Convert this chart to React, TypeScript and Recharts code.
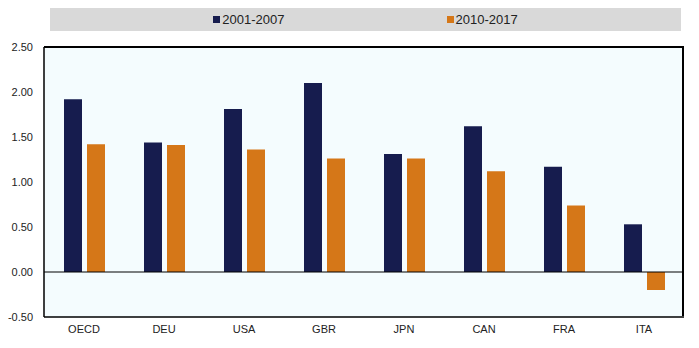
import {
  BarChart, Bar, XAxis, YAxis, CartesianGrid, ReferenceLine,
} from "recharts";

const categories = ["OECD", "DEU", "USA", "GBR", "JPN", "CAN", "FRA", "ITA"];
const series2001 = [1.92, 1.44, 1.81, 2.10, 1.31, 1.62, 1.17, 0.53];
const series2010 = [1.42, 1.41, 1.36, 1.26, 1.26, 1.12, 0.74, -0.2];
const seriesNames = ["2001-2007", "2010-2017"];
const yTicks = [-0.5, 0, 0.5, 1, 1.5, 2, 2.5];

const COLORS = ["#161C4E", "#D57718"];
const FONT = "'Liberation Sans', Arial, sans-serif";

const W = 699;
const H = 348;
const MARGIN = { top: 47, right: 15, bottom: 0, left: 0 };
const Y_AXIS_W = 44;
const X_AXIS_H = 31;

const rows = categories.map((name, i) => ({
  name,
  a: series2001[i],
  b: series2010[i],
}));

function LegendBand() {
  return (
    <div
      style={{
        position: "absolute",
        left: 50,
        top: 8,
        width: 631,
        height: 23,
        background: "#D9D9D9",
        display: "flex",
        alignItems: "center",
        justifyContent: "center",
        gap: 162,
        fontFamily: FONT,
        fontSize: 13,
        color: "#222",
      }}
    >
      {seriesNames.map((n, i) => (
        <div key={n} style={{ display: "flex", alignItems: "center", gap: 2 }}>
          <span style={{ width: 7, height: 7, background: COLORS[i], display: "inline-block" }} />
          <span>{n}</span>
        </div>
      ))}
    </div>
  );
}

export default function App() {
  const plotLeft = MARGIN.left + Y_AXIS_W;
  const plotW = W - plotLeft - MARGIN.right;
  const plotH = H - MARGIN.top - MARGIN.bottom - X_AXIS_H;
  return (
    <div style={{ position: "absolute", left: 0, top: 0, width: W, height: H, background: "#fff" }}>
      <LegendBand />
      <BarChart
        width={W}
        height={H}
        data={rows}
        margin={MARGIN}
        barSize={18}
        barGap={5}
      >
        <CartesianGrid horizontal={false} vertical={false} fill="#F4FCFE" />
        <XAxis
          dataKey="name"
          height={X_AXIS_H}
          tickLine={false}
          axisLine={{ stroke: "#000", strokeWidth: 1.5 }}
          tick={{ fontFamily: FONT, fontSize: 11, fill: "#222" }}
        />
        <YAxis
          width={Y_AXIS_W}
          domain={[-0.5, 2.5]}
          ticks={yTicks}
          tickFormatter={(v: number) => v.toFixed(2)}
          tickLine={false}
          tickMargin={5}
          axisLine={{ stroke: "#000", strokeWidth: 1.5 }}
          tick={{ fontFamily: FONT, fontSize: 11, fill: "#222" }}
        />
        <Bar dataKey="a" name={seriesNames[0]} fill={COLORS[0]} isAnimationActive={false} />
        <Bar dataKey="b" name={seriesNames[1]} fill={COLORS[1]} isAnimationActive={false} />
        <ReferenceLine y={0} stroke="#000" strokeWidth={1} />
      </BarChart>
      {/* top and right edges of the plot frame */}
      <div
        style={{
          position: "absolute",
          left: plotLeft,
          top: MARGIN.top - 1,
          width: plotW,
          height: plotH,
          boxSizing: "border-box",
          borderTop: "2px solid #000",
          borderRight: "2px solid #000",
          pointerEvents: "none",
          zIndex: 2,
        }}
      />
    </div>
  );
}
